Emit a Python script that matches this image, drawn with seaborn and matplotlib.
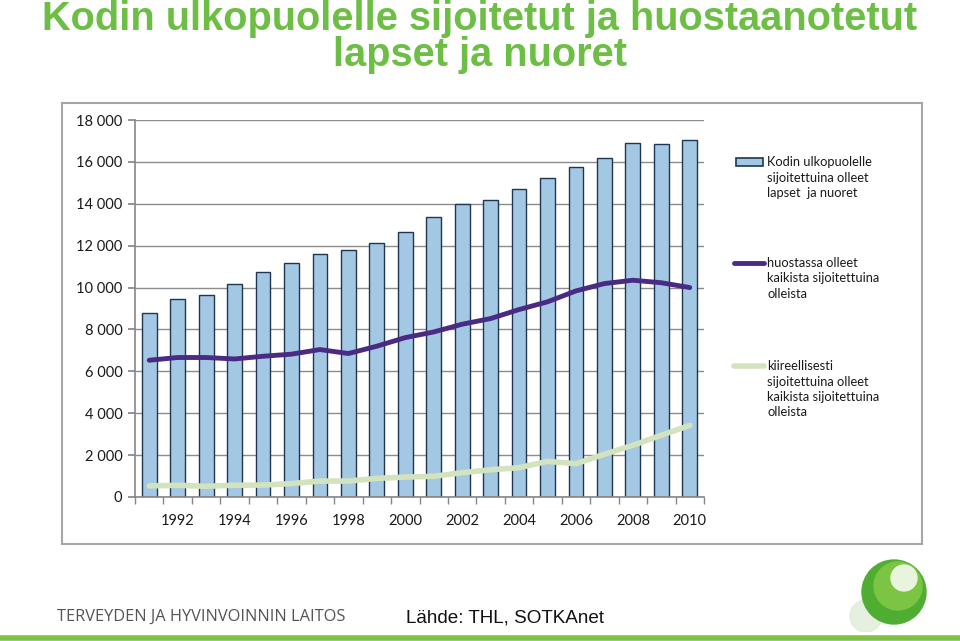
import numpy as np
import pandas as pd
import matplotlib
matplotlib.use("Agg")
import matplotlib.pyplot as plt
from matplotlib.patches import Rectangle, Circle
from matplotlib.lines import Line2D
import matplotlib.ticker as mticker
import seaborn as sns

years = list(range(1991, 2011))
placed = [8800, 9460, 9640, 10180, 10740, 11170, 11610, 11770, 12110, 12660,
          13380, 13990, 14190, 14690, 15240, 15740, 16170, 16900, 16850, 17060]
custody = [6530, 6660, 6660, 6590, 6720, 6820, 7040, 6850, 7200, 7610,
           7880, 8250, 8520, 8950, 9320, 9840, 10190, 10350, 10230, 10000]
urgent = [530, 560, 510, 560, 570, 640, 760, 760, 890, 950,
          990, 1160, 1300, 1400, 1700, 1590, 2040, 2470, 2950, 3420]
xtick_years = [1992, 1994, 1996, 1998, 2000, 2002, 2004, 2006, 2008, 2010]

title = "Kodin ulkopuolelle sijoitetut ja huostaanotetut\nlapset ja nuoret"
label_bar = "Kodin ulkopuolelle\nsijoitettuina olleet\nlapset  ja nuoret"
label_custody = "huostassa olleet\nkaikista sijoitettuina\nolleista"
label_urgent = "kiireellisesti\nsijoitettuina olleet\nkaikista sijoitettuina\nolleista"
footer_left = "TERVEYDEN JA HYVINVOINNIN LAITOS"
footer_right = "Lähde: THL, SOTKAnet"

BAR_FILL = "#A3C8E4"
BAR_EDGE = "#1F3550"
PURPLE = "#4B2A84"
LGREEN = "#D3E3BD"

df = pd.DataFrame({"year": years, "placed": placed, "custody": custody, "urgent": urgent})

sns.set_theme(style="white")
plt.rcParams["font.family"] = ["Lato", "DejaVu Sans"]

fig = plt.figure(figsize=(9.6, 6.41), dpi=100)
ax = fig.add_axes([135/960, 1-497/641, (704-135)/960, (497-120)/641])

def fx(px):
    return px / 960
def fy(py):
    return 1 - py / 641

# chart frame
fig.patches.append(Rectangle((fx(62), fy(544)), (922-62)/960, (544-103)/641,
                             transform=fig.transFigure, fill=False,
                             edgecolor="#A6A6A6", lw=1.5, zorder=0))

ax.set_axisbelow(True)
ax.yaxis.grid(True, color="#8C8C8C", lw=1.0)
sns.barplot(data=df, x="year", y="placed", native_scale=True, width=0.52,
            color=BAR_FILL, edgecolor=BAR_EDGE, linewidth=1.0,
            saturation=1, ax=ax, zorder=2)
sns.lineplot(data=df, x="year", y="custody", color=PURPLE, lw=3.5,
             ax=ax, zorder=3)
sns.lineplot(data=df, x="year", y="urgent", color=LGREEN, lw=4.0,
             ax=ax, zorder=3)

ax.set_xlim(1990.5, 2010.5)
ax.set_ylim(0, 18000)
ax.set_yticks(np.arange(0, 18001, 2000))
ax.yaxis.set_major_formatter(mticker.FuncFormatter(
    lambda v, p: f"{int(v):,}".replace(",", " ")))
ax.set_xticks(xtick_years)
ax.set_xticks(np.arange(1990.5, 2010.6, 1), minor=True)
ax.tick_params(axis="x", which="major", length=0, labelsize=10.5, pad=12,
               colors="#1A1A1A")
ax.tick_params(axis="x", which="minor", length=5, color="#868686", direction="out",
               bottom=True)
ax.tick_params(axis="y", length=5, color="#868686", direction="out", left=True,
               labelsize=10.5, colors="#1A1A1A", pad=4)
ax.set_xlabel("")
ax.set_ylabel("")
for s in ["top", "right"]:
    ax.spines[s].set_visible(False)
for s in ["left", "bottom"]:
    ax.spines[s].set_color("#868686")
    ax.spines[s].set_linewidth(1.2)

# legend (drawn manually so the key sits beside the first text line)
entries = [(label_bar, "bar", 162), (label_custody, PURPLE, 263), (label_urgent, LGREEN, 366)]
for label, kind, ypx in entries:
    if kind == "bar":
        fig.patches.append(Rectangle((fx(736), fy(166)), 27/960, 8/641,
                                     transform=fig.transFigure, facecolor=BAR_FILL,
                                     edgecolor=BAR_EDGE, lw=1.2))
    else:
        fig.add_artist(Line2D([fx(734), fx(764)], [fy(ypx), fy(ypx)],
                              transform=fig.transFigure, color=kind,
                              lw=3.5 if kind == PURPLE else 4.0,
                              solid_capstyle="round"))
    fig.text(fx(767), fy(ypx - 6), label, ha="left", va="top", fontsize=9.3,
             color="#1A1A1A", linespacing=1.35)

fig.text(0.5, 1.0, title, ha="center", va="top", color="#6DBE45",
         fontsize=28.6, fontweight="bold", family=["Liberation Sans", "DejaVu Sans"],
         linespacing=0.93)

fig.text(fx(57), fy(617), footer_left, ha="left", va="center", color="#555555",
         fontsize=11.8, family=["Open Sans", "DejaVu Sans"])
fig.text(fx(406), fy(618), footer_right, ha="left", va="center", color="#111111",
         fontsize=13.6, family=["Liberation Sans Narrow", "Liberation Sans", "DejaVu Sans"])

# bottom green rule
fig.add_artist(Line2D([0, 1], [fy(638), fy(638)], transform=fig.transFigure,
                      color="#7DC242", lw=4))

# logo sphere
logo_ax = fig.add_axes([fx(832), fy(632), 105/960, 78/641])
logo_ax.set_xlim(0, 105); logo_ax.set_ylim(0, 78); logo_ax.set_aspect("equal")
logo_ax.axis("off")
logo_ax.add_patch(Circle((34, 16), 16, color="#DCEBD2", alpha=0.7))
logo_ax.add_patch(Circle((62, 40), 32, color="#4FAE32"))
logo_ax.add_patch(Circle((66, 46), 24, color="#7CC443"))
logo_ax.add_patch(Circle((72, 54), 13, color="#E8F4DC"))

fig.savefig("out.png", dpi=100)
